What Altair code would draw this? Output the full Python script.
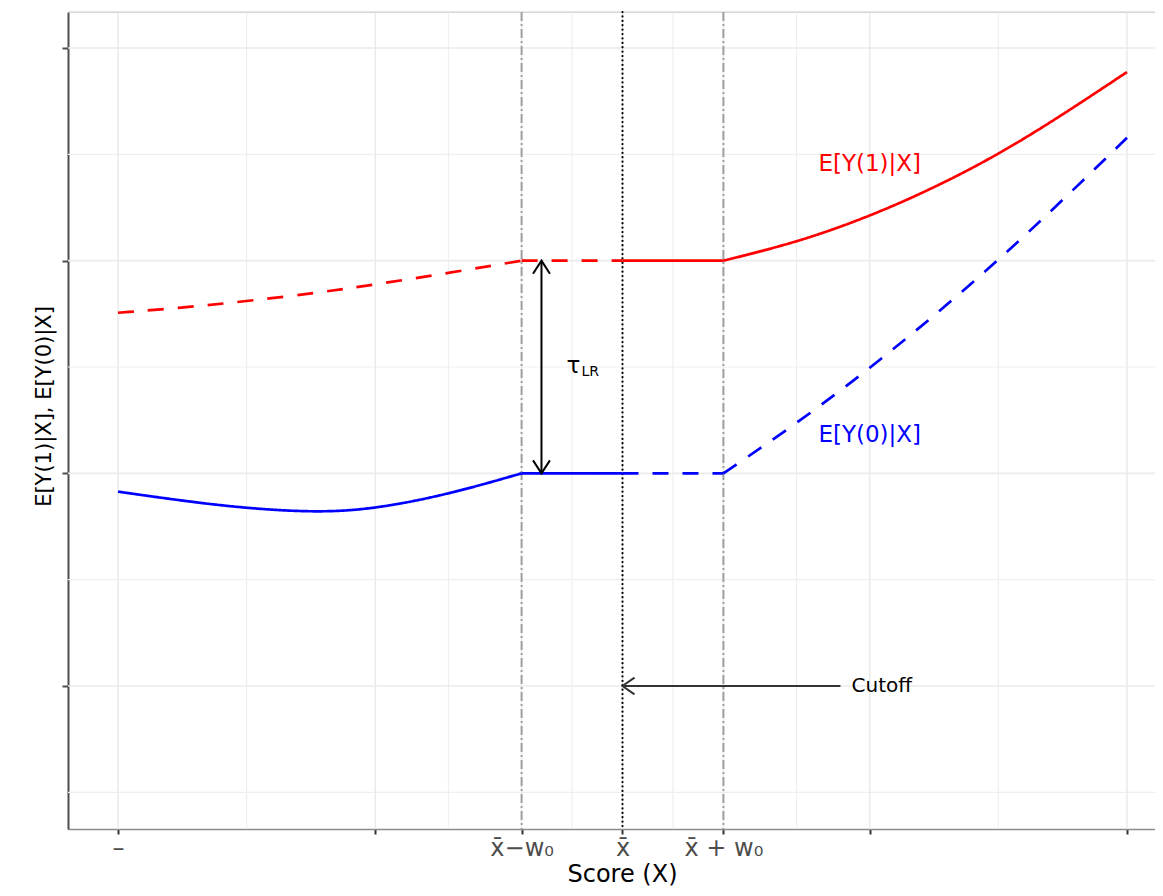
import altair as alt
import pandas as pd

# ---------------- data ----------------
# score positions (x̄ = 0, w0 = 0.2)
x_left = [-1.0, -0.87, -0.744, -0.6, -0.488, -0.345, -0.2]
x_right = [0.2, 0.349, 0.492, 0.62, 0.746, 0.872, 1.0]
x_inner = [-0.2, 0.0, 0.2]          # x̄−w0, x̄, x̄+w0

# E[Y(1)|X]
y1_left = [0.755, 0.779, 0.81, 0.85, 0.889, 0.942, 1.0]
y1_flat = 1.0
y1_right = [1.0, 1.088, 1.21, 1.345, 1.5, 1.685, 1.887]

# E[Y(0)|X]
y0_left = [-0.086, -0.13, -0.165, -0.185, -0.166, -0.099, 0.0]
y0_flat = 0.0
y0_right = [0.0, 0.24, 0.497, 0.745, 1.004, 1.283, 1.578]

# axes
x_ticks = [-1.0, -0.49, -0.2, 0.0, 0.2, 0.49, 1.0]
x_tick_labels = ["–", "", "x̄−w₀", "x̄", "x̄ + w₀", "", ""]
x_minor = [-0.745, -0.345, -0.1, 0.1, 0.345, 0.745]
y_ticks = [-1.0, 0.0, 1.0, 2.0]
y_minor = [-1.5, -0.5, 0.5, 1.5]

# annotations
tau_x = -0.1606
tau_label = ["τ", "LR"]
tau_label_x = [-0.111, -0.0813]
tau_label_y = [0.505, 0.478]
cutoff_arrow_x = [0.0, 0.432]
cutoff_y = -1.0
cutoff_label = "Cutoff"
cutoff_label_x = 0.454
curve_labels = ["E[Y(1)|X]", "E[Y(0)|X]"]
curve_label_x = [0.490, 0.490]
curve_label_y = [1.454, 0.181]

FONT = "DejaVu Sans"
RED = "#ff0000"
BLUE = "#0000ff"

# ---------------- tables ----------------
rows = []


def add(seg, curve, style, xs, ys):
    for a, b in zip(xs, ys):
        rows.append({"seg": seg, "curve": curve, "style": style, "x": a, "y": b})


add("y1_left", "Y1", "dashed", x_left, y1_left)
add("y1_flat_a", "Y1", "dashed", x_inner[:2], [y1_flat, y1_flat])
add("y1_flat_b", "Y1", "solid", x_inner[1:], [y1_flat, y1_flat])
add("y1_right", "Y1", "solid", x_right, y1_right)
add("y0_left", "Y0", "solid", x_left, y0_left)
add("y0_flat_a", "Y0", "solid", x_inner[:2], [y0_flat, y0_flat])
add("y0_flat_b", "Y0", "dashed", x_inner[1:], [y0_flat, y0_flat])
add("y0_right", "Y0", "dashed", x_right, y0_right)
lines_df = pd.DataFrame(rows)

label_expr = " : ".join(
    f"abs(datum.value - ({v})) < 1e-6 ? '{t}'" for v, t in zip(x_ticks, x_tick_labels)
) + " : ''"

xscale = alt.Scale(domain=[-1.0991, 1.0555], nice=False, zero=False)
yscale = alt.Scale(domain=[-1.6724, 2.1693], nice=False, zero=False)

xaxis = alt.Axis(
    values=x_ticks, labelExpr=label_expr, title="Score (X)", grid=False,
    domainColor="#8c8c8c", domainWidth=1.5, tickColor="#333333", tickWidth=2,
    tickSize=5, labelFontSize=24, labelColor="#4d4d4d", labelPadding=2,
    labelFont=FONT, titleFont=FONT, titleFontSize=24, titleColor="black",
    titleFontWeight="normal", titleX=554, titleY=52, titleBaseline="alphabetic",
)
yaxis = alt.Axis(
    values=y_ticks, labels=False, title="E[Y(1)|X], E[Y(0)|X]", grid=False,
    domainColor="#4d4d4d", domainWidth=2, tickColor="#4d4d4d", tickWidth=2,
    tickSize=6, titleFont=FONT, titleFontSize=21, titleFontWeight="normal",
    titleColor="black", titleX=-18, titleY=394, titleBaseline="alphabetic",
    titleAngle=270,
)

X = alt.X("x:Q", scale=xscale, axis=xaxis)
Y = alt.Y("y:Q", scale=yscale, axis=yaxis)

# grid lines
hgrid_major = alt.Chart(pd.DataFrame({"y": y_ticks})).mark_rule(
    color="#ebebeb", strokeWidth=1.6).encode(y=Y)
hgrid_minor = alt.Chart(pd.DataFrame({"y": y_minor})).mark_rule(
    color="#efefef", strokeWidth=1.2).encode(y=Y)
vgrid_major = alt.Chart(pd.DataFrame({"x": x_ticks})).mark_rule(
    color="#ebebeb", strokeWidth=1.6).encode(x=X)
vgrid_minor = alt.Chart(pd.DataFrame({"x": x_minor})).mark_rule(
    color="#efefef", strokeWidth=1.2).encode(x=X)
top_border = alt.Chart(pd.DataFrame({"k": [0]})).mark_rule(
    color="#cfcfcf", strokeWidth=1.2).encode(
    x=alt.value(0), x2=alt.value(1087), y=alt.value(0))

# reference lines
window_lines = alt.Chart(pd.DataFrame({"x": [x_inner[0], x_inner[2]]})).mark_rule(
    color="#a0a0a0", strokeWidth=2, strokeDash=[9, 3, 2, 3]).encode(x=X)
cutoff_line = alt.Chart(pd.DataFrame({"x": [x_inner[1]]})).mark_rule(
    color="black", strokeWidth=2.2, strokeDash=[0.1, 4.3], strokeCap="round").encode(x=X)

# curves
curves = alt.Chart(lines_df).mark_line(strokeWidth=2.7, interpolate="basis").encode(
    x=X, y=Y,
    color=alt.Color("curve:N", scale=alt.Scale(domain=["Y1", "Y0"], range=[RED, BLUE]), legend=None),
    strokeDash=alt.StrokeDash("style:N", scale=alt.Scale(domain=["solid", "dashed"], range=[[1, 0], [16, 14]]), legend=None),
    detail="seg:N",
)

# arrows (open chevron heads drawn as custom point shapes)
UP = "M -0.65 1 L 0 0 L 0.65 1"
DOWN = "M -0.65 -1 L 0 0 L 0.65 -1"
LEFT = "M 1 -0.7 L 0 0 L 1 0.7"
shape_scale = alt.Scale(domain=["up", "down", "left"], range=[UP, DOWN, LEFT])

tau_rule = alt.Chart(pd.DataFrame({"x": [tau_x], "y": [y0_flat], "y2": [y1_flat]})).mark_rule(
    color="black", strokeWidth=2).encode(x=X, y=Y, y2=alt.Y2("y2:Q"))
tau_heads = alt.Chart(pd.DataFrame({
    "x": [tau_x, tau_x], "y": [y1_flat, y0_flat], "dir": ["up", "down"]})).mark_point(
    filled=False, opacity=1, strokeWidth=2, size=676, color="black").encode(
    x=X, y=Y, shape=alt.Shape("dir:N", scale=shape_scale, legend=None))
cutoff_head = alt.Chart(pd.DataFrame({
    "x": [cutoff_arrow_x[0]], "y": [cutoff_y], "dir": ["left"]})).mark_point(
    filled=False, opacity=1, strokeWidth=2, size=576, color="#333333").encode(
    x=X, y=Y, shape=alt.Shape("dir:N", scale=shape_scale, legend=None))
cutoff_rule = alt.Chart(pd.DataFrame({"x": [cutoff_arrow_x[0]], "x2": [cutoff_arrow_x[1]], "y": [cutoff_y]})).mark_rule(
    color="#333333", strokeWidth=2).encode(x=X, x2=alt.X2("x2:Q"), y=Y)

# texts
curve_text = alt.Chart(pd.DataFrame({
    "x": curve_label_x, "y": curve_label_y, "t": curve_labels, "c": ["Y1", "Y0"]})).mark_text(
    font=FONT, fontSize=23, align="center", baseline="middle").encode(
    x=X, y=Y, text="t:N",
    color=alt.Color("c:N", scale=alt.Scale(domain=["Y1", "Y0"], range=[RED, BLUE]), legend=None))
cutoff_text = alt.Chart(pd.DataFrame({"x": [cutoff_label_x], "y": [cutoff_y], "t": [cutoff_label]})).mark_text(
    font=FONT, fontSize=20, align="left", baseline="middle", color="black").encode(x=X, y=Y, text="t:N")
tau_text = alt.Chart(pd.DataFrame({"x": tau_label_x[:1], "y": tau_label_y[:1], "t": tau_label[:1]})).mark_text(
    font=FONT, fontSize=23, align="left", baseline="middle", color="black").encode(x=X, y=Y, text="t:N")
tau_sub = alt.Chart(pd.DataFrame({"x": tau_label_x[1:], "y": tau_label_y[1:], "t": tau_label[1:]})).mark_text(
    font=FONT, fontSize=14, align="left", baseline="middle", color="black").encode(x=X, y=Y, text="t:N")

chart = alt.layer(
    hgrid_minor, vgrid_minor, hgrid_major, vgrid_major, top_border,
    window_lines, cutoff_line, curves, tau_rule, cutoff_rule, tau_heads, cutoff_head,
    curve_text, cutoff_text, tau_text, tau_sub,
).properties(
    width=1087, height=817,
    autosize=alt.AutoSizeParams(type="none"),
    padding={"left": 60, "top": 4, "right": 0, "bottom": 59},
    background="white",
).configure_view(stroke=None).configure(font=FONT)

chart.save("out.html", embed_options={"renderer": "svg", "actions": False})
